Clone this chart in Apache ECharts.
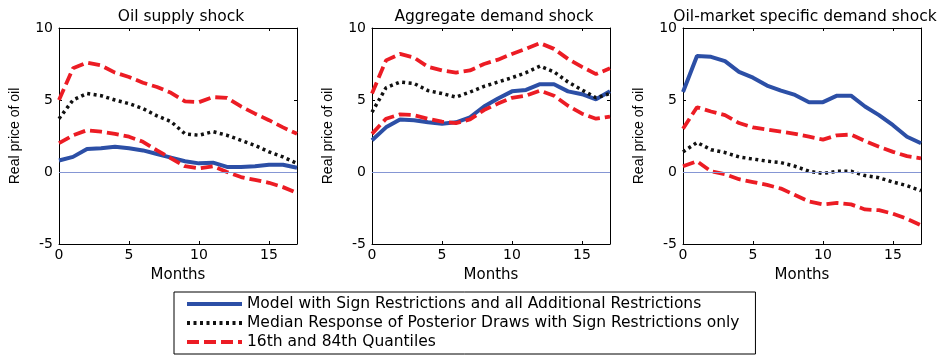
<!DOCTYPE html>
<html>
<head>
<meta charset="utf-8">
<script src="https://cdn.jsdelivr.net/npm/echarts@6/dist/echarts.min.js"></script>
<style>
html, body { margin: 0; padding: 0; background: #fff; }
#chart { width: 937px; height: 355px; }
</style>
</head>
<body>
<div id="chart"></div>
<script>
// months on the x axis
const months = [0, 1, 2, 3, 4, 5, 6, 7, 8, 9, 10, 11, 12, 13, 14, 15, 16, 17];

// Oil supply shock
const supplyModel  = [0.8, 1.05, 1.6, 1.65, 1.75, 1.65, 1.5, 1.25, 1.0, 0.75, 0.6, 0.65, 0.35, 0.35, 0.4, 0.5, 0.5, 0.3];
const supplyMedian = [3.7, 5.0, 5.45, 5.3, 5.0, 4.75, 4.4, 3.9, 3.5, 2.65, 2.55, 2.8, 2.55, 2.2, 1.85, 1.4, 1.05, 0.6];
const supplyUpper  = [5.0, 7.2, 7.6, 7.4, 6.9, 6.6, 6.2, 5.9, 5.5, 4.9, 4.85, 5.2, 5.15, 4.55, 4.05, 3.6, 3.1, 2.65];
const supplyLower  = [2.0, 2.55, 2.9, 2.8, 2.65, 2.45, 2.1, 1.5, 0.95, 0.4, 0.25, 0.4, 0.0, -0.35, -0.55, -0.75, -1.05, -1.45];

// Aggregate demand shock
const aggModel  = [2.2, 3.1, 3.65, 3.6, 3.45, 3.35, 3.45, 3.8, 4.55, 5.1, 5.6, 5.7, 6.1, 6.1, 5.6, 5.4, 5.05, 5.6];
const aggMedian = [4.15, 5.85, 6.25, 6.15, 5.65, 5.45, 5.2, 5.55, 5.95, 6.25, 6.55, 6.9, 7.35, 6.95, 6.25, 5.7, 5.15, 5.45];
const aggUpper  = [5.45, 7.75, 8.2, 7.95, 7.3, 7.05, 6.9, 7.05, 7.5, 7.8, 8.2, 8.55, 8.95, 8.55, 7.85, 7.3, 6.8, 7.2];
const aggLower  = [2.65, 3.7, 4.0, 3.95, 3.7, 3.5, 3.4, 3.65, 4.3, 4.75, 5.15, 5.3, 5.65, 5.3, 4.6, 4.05, 3.7, 3.85];

// Oil-market specific demand shock
const specModel  = [5.55, 8.05, 8.0, 7.7, 6.95, 6.55, 6.0, 5.65, 5.35, 4.85, 4.85, 5.3, 5.3, 4.55, 3.95, 3.25, 2.45, 2.0];
const specMedian = [1.4, 2.05, 1.55, 1.35, 1.05, 0.9, 0.75, 0.65, 0.4, 0.05, -0.1, 0.05, 0.05, -0.25, -0.4, -0.7, -0.95, -1.3];
const specUpper  = [3.0, 4.5, 4.2, 3.95, 3.4, 3.1, 2.95, 2.8, 2.65, 2.45, 2.25, 2.55, 2.6, 2.15, 1.75, 1.4, 1.1, 0.95];
const specLower  = [0.4, 0.75, 0.05, -0.15, -0.5, -0.7, -0.9, -1.15, -1.6, -2.05, -2.25, -2.15, -2.25, -2.6, -2.65, -2.9, -3.25, -3.7];

const titles = ["Oil supply shock", "Aggregate demand shock", "Oil-market specific demand shock"];
const panels = [
    [supplyModel, supplyMedian, supplyUpper, supplyLower],
    [aggModel, aggMedian, aggUpper, aggLower],
    [specModel, specMedian, specUpper, specLower],
];
const names = [
    "Model with Sign Restrictions and all Additional Restrictions",
    "Median Response of Posterior Draws with Sign Restrictions only",
    "16th and 84th Quantiles",
];

// wide sans for the horizontal texts, narrow one for the rotated label
const WIDE = "DejaVu Sans, Verdana, sans-serif";
const NARROW = "Liberation Sans, Arial, Helvetica, sans-serif";
const BLUE = "#2c4fa6";
const RED = "#ec1c24";
const gridLefts = [59, 372, 683];
const gridWidth = 238;

const chart = echarts.init(document.getElementById("chart"));

const grids = [], xAxes = [], yAxes = [], series = [], title = [];

gridLefts.forEach((left, i) => {
    grids.push({left: left, top: 28, width: gridWidth, height: 216});
    title.push({
        text: titles[i],
        left: left + gridWidth / 2 - 2,
        top: 4,
        textAlign: "center",
        textStyle: {fontFamily: WIDE, fontSize: 15.5, fontWeight: "normal", color: "#000"},
    });
    // bottom / top x axes (box with inward ticks)
    const xBase = {
        gridIndex: i, type: "value", min: 0, max: 17, interval: 5,
        axisLine: {onZero: false, lineStyle: {color: "#000", width: 1}},
        axisTick: {inside: true, length: 3, lineStyle: {color: "#000"}},
        splitLine: {show: false},
    };
    xAxes.push(Object.assign({}, xBase, {
        position: "bottom",
        name: "Months", nameLocation: "middle", nameGap: 24,
        nameTextStyle: {fontFamily: WIDE, fontSize: 15, color: "#000"},
        axisLabel: {margin: 4, fontFamily: WIDE, fontSize: 14, color: "#000",
            formatter: (v) => (v % 5 === 0 ? String(v) : "")},
    }));
    xAxes.push(Object.assign({}, xBase, {position: "top", axisLabel: {show: false}}));
    const yBase = {
        gridIndex: i, type: "value", min: -5, max: 10, interval: 5,
        axisLine: {show: true, onZero: false, lineStyle: {color: "#000", width: 1}},
        axisTick: {show: true, inside: true, length: 3, lineStyle: {color: "#000"}},
        splitLine: {show: false},
    };
    yAxes.push(Object.assign({}, yBase, {
        position: "left",
        name: "Real price of oil", nameLocation: "middle", nameGap: 37,
        nameTextStyle: {fontFamily: NARROW, fontSize: 14, color: "#000"},
        axisLabel: {margin: 6, fontFamily: WIDE, fontSize: 14, color: "#000"},
    }));
    yAxes.push(Object.assign({}, yBase, {position: "right", axisLabel: {show: false}}));

    const [model, median, upper, lower] = panels[i];
    const pair = (arr) => months.map((m, k) => [m, arr[k]]);
    const base = {type: "line", xAxisIndex: 2 * i, yAxisIndex: 2 * i, symbol: "none", showSymbol: false, silent: true};

    series.push(Object.assign({}, base, {
        name: names[0], data: pair(model),
        lineStyle: {color: BLUE, width: 4},
        itemStyle: {color: BLUE},
        // zero reference line
        markLine: {
            silent: true, symbol: "none", label: {show: false},
            lineStyle: {color: "#8596d4", width: 1, type: "solid"},
            data: [{yAxis: 0}],
        },
    }));
    series.push(Object.assign({}, base, {
        name: names[1], data: pair(median),
        lineStyle: {color: "#111", width: 3.5, type: [3, 3.5]},
        itemStyle: {color: "#111"},
    }));
    series.push(Object.assign({}, base, {
        name: names[2], data: pair(upper),
        lineStyle: {color: RED, width: 3.8, type: [12, 5]},
        itemStyle: {color: RED},
    }));
    series.push(Object.assign({}, base, {
        name: names[2], data: pair(lower),
        lineStyle: {color: RED, width: 3.8, type: [12, 5]},
        itemStyle: {color: RED},
    }));
});

const option = {
    animation: false,
    title: title,
    grid: grids,
    xAxis: xAxes,
    yAxis: yAxes,
    legend: {
        data: names,
        orient: "vertical",
        left: 174,
        top: 292,
        itemWidth: 55,
        itemHeight: 14,
        itemGap: 3,
        // hide the point symbol, keep a thick line sample
        itemStyle: {opacity: 0},
        lineStyle: {width: 4},
        borderColor: "#000",
        borderWidth: 1,
        padding: [4, 16, 4, 11],
        selectedMode: false,
        textStyle: {fontFamily: WIDE, fontSize: 15.5, lineHeight: 16, color: "#000"},
    },
    series: series,
};
chart.setOption(option);
</script>
</body>
</html>
